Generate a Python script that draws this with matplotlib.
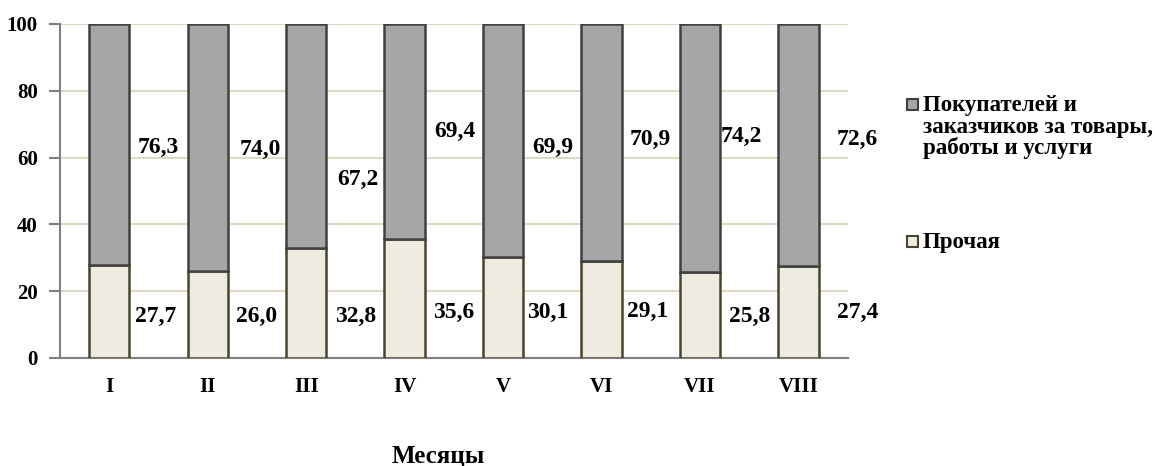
import numpy as np
import matplotlib
matplotlib.use("Agg")
import matplotlib.pyplot as plt
from matplotlib.patches import Rectangle

plt.rcParams['font.family'] = ['Liberation Serif', 'DejaVu Serif']
plt.rcParams['font.weight'] = 'bold'

# Data
months = ['I', 'II', 'III', 'IV', 'V', 'VI', 'VII', 'VIII']
other = [27.7, 26.0, 32.8, 35.6, 30.1, 29.1, 25.8, 27.4]
buyers = [76.3, 74.0, 67.2, 69.4, 69.9, 70.9, 74.2, 72.6]
series_names = ['Покупателей и\nзаказчиков за товары,\nработы и услуги', 'Прочая']

# label placement (as in the source picture)
top_dx = [0.50, 0.53, 0.52, 0.51, 0.50, 0.49, 0.42, 0.60]
top_y = [62.9, 62.3, 53.3, 67.7, 62.9, 65.3, 66.2, 65.3]
bot_dx = [0.47, 0.50, 0.50, 0.50, 0.45, 0.47, 0.50, 0.60]
bot_y = [12.3, 12.3, 12.3, 13.5, 13.5, 13.8, 12.3, 13.5]

gray = '#A6A6A6'
light = '#EEECE1'
W, H = 1155, 466

fig = plt.figure(figsize=(W / 100, H / 100), dpi=100)
ax = fig.add_axes([0.052, 0.232, 0.682, 0.7165])

x = np.arange(len(months))
other_arr = np.array(other)
ax.bar(x, other_arr, width=0.41, color=light, edgecolor='#4A452A', linewidth=1.8, zorder=3)
ax.bar(x, 100 - other_arr, bottom=other_arr, width=0.41, color=gray,
       edgecolor='#404040', linewidth=1.8, zorder=3)

for i in range(len(months)):
    ax.text(x[i] + top_dx[i], top_y[i], f'{buyers[i]:.1f}'.replace('.', ','),
            ha='center', va='center', fontsize=17, fontweight='bold', clip_on=False)
    ax.text(x[i] + bot_dx[i], bot_y[i], f'{other[i]:.1f}'.replace('.', ','),
            ha='center', va='center', fontsize=17, fontweight='bold', clip_on=False)

ax.set_xlim(-0.5, len(months) - 0.5)
ax.set_ylim(0, 100)
ax.set_yticks(range(0, 101, 20))
ax.set_xticks(x)
ax.set_xticklabels(months)
ax.tick_params(axis='y', length=8, width=1.5, color='#808080', labelsize=15, pad=8)
ax.tick_params(axis='x', length=0, labelsize=15, pad=14)
for lab in ax.get_xticklabels() + ax.get_yticklabels():
    lab.set_fontweight('bold')

ax.yaxis.grid(True, color='#DDD9C3', linewidth=1.5, zorder=0)
ax.set_axisbelow(True)
for s in ['top', 'right']:
    ax.spines[s].set_visible(False)
for s in ['left', 'bottom']:
    ax.spines[s].set_color('#808080')
    ax.spines[s].set_linewidth(1.5)

fig.text(438 / W, 1 - 456 / H, 'Месяцы', ha='center', va='center', fontsize=18, fontweight='bold')

# legend, drawn by hand so the marker sits at the first text line
leg_colors = [(gray, '#404040'), (light, '#4A452A')]
leg_first_baseline = [111, 248]
line_step = 21.5
for name, (fc, ec), base in zip(series_names, leg_colors, leg_first_baseline):
    fig.patches.append(Rectangle((907 / W, 1 - (base - 1) / H), 11 / W, 11 / H,
                                 transform=fig.transFigure, facecolor=fc,
                                 edgecolor=ec, linewidth=1.5))
    for k, line in enumerate(name.split('\n')):
        fig.text(923 / W, 1 - (base + k * line_step) / H, line, ha='left',
                 va='baseline', fontsize=16.5, fontweight='bold')

fig.savefig('out.png', dpi=100)
